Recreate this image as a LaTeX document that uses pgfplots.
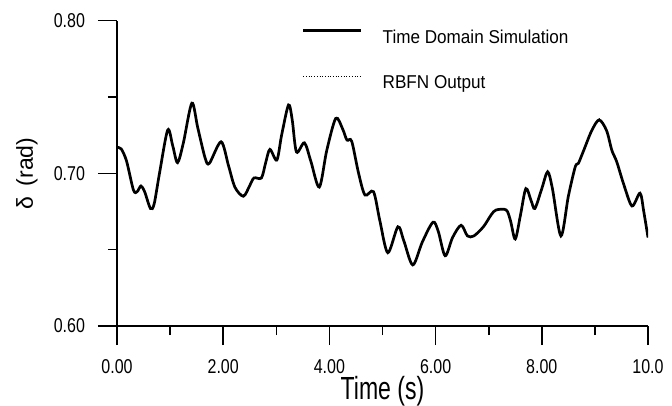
\documentclass[border=0pt]{standalone}
\usepackage{pgfplots}
\pgfplotsset{compat=1.18}
\usepackage{fontspec}
\setmainfont{Liberation Sans}
\newfontfamily\tickfont{Liberation Sans}[FakeStretch=0.8]
\newfontfamily\legfont{Liberation Sans}[FakeStretch=0.92]
\newfontfamily\xlabfont{Liberation Sans}[FakeStretch=0.72]
\begin{document}
\begin{tikzpicture}
\begin{axis}[
  scale only axis, width=531bp, height=305.3bp,
  xmin=0, xmax=10, ymin=0.6, ymax=0.8,
  axis x line*=bottom, axis y line*=left,
  axis line style={line width=1.8bp, -},
  xtick={0,2,4,6,8,10}, xticklabels={0.00,2.00,4.00,6.00,8.00,10.0},
  ytick={0.6,0.7,0.8}, yticklabels={0.60,0.70,0.80},
  minor x tick num=1, minor y tick num=1,
  tick align=outside,
  major tick length=19bp, minor tick length=9bp,
  xticklabel shift=11bp, yticklabel shift=9.5bp,
  tick style={black, line width=1.6bp},
  tick label style={font=\fontsize{20bp}{20bp}\tickfont},
  xlabel={\fontsize{32bp}{32bp}\xlabfont Time (s)},
  xlabel style={at={(axis description cs:0.5,-0.242)}, anchor=base},
  ylabel={\fontsize{23bp}{23bp}\selectfont δ\, (rad)},
  ylabel style={at={(axis description cs:-0.1695,0.5)}, anchor=center},
  legend style={draw=none, fill=none, at={(0.3484,0.9718)}, anchor=north west,
    inner sep=0pt, outer sep=0pt, row sep=30.7bp,
    font=\fontsize{18.6bp}{18.6bp}\legfont, nodes={inner sep=0pt}},
  legend cell align=left,
  legend image code/.code={\draw[#1] (0bp,6.5bp) -- (58bp,6.5bp); \path (78bp,6.5bp);},
]
\addplot[black, line width=2.7bp, smooth] coordinates {
(0.00,0.717) (0.08,0.716) (0.18,0.708) (0.31,0.689) (0.38,0.688) (0.45,0.6917)
(0.52,0.688) (0.63,0.677) (0.70,0.680) (0.80,0.700) (0.955,0.7284) (1.05,0.718)
(1.14,0.707) (1.25,0.720) (1.41,0.746) (1.52,0.730) (1.66,0.710) (1.74,0.7066)
(1.96,0.7207) (2.10,0.705) (2.22,0.691) (2.38,0.685) (2.50,0.692) (2.58,0.697)
(2.72,0.697) (2.80,0.707) (2.88,0.7157) (3.01,0.7087) (3.10,0.725) (3.23,0.7448)
(3.30,0.735) (3.38,0.714) (3.53,0.720) (3.65,0.708) (3.81,0.691) (3.95,0.715)
(4.12,0.736) (4.25,0.729) (4.33,0.7218) (4.42,0.721) (4.55,0.700) (4.67,0.6858)
(4.83,0.688) (4.95,0.669) (5.10,0.648) (5.29,0.665) (5.40,0.656) (5.57,0.640)
(5.75,0.655) (5.95,0.668) (6.05,0.662) (6.18,0.646) (6.32,0.658) (6.48,0.666)
(6.60,0.659) (6.72,0.659) (6.90,0.665) (7.05,0.673) (7.14,0.676) (7.33,0.676)
(7.41,0.669) (7.50,0.657) (7.60,0.673) (7.70,0.690) (7.80,0.682) (7.87,0.677)
(8.00,0.690) (8.11,0.701) (8.20,0.690) (8.36,0.659) (8.50,0.685) (8.63,0.7043)
(8.69,0.7066) (8.80,0.716) (8.94,0.728) (9.08,0.735) (9.22,0.728) (9.32,0.715)
(9.41,0.7077) (9.55,0.692) (9.70,0.6786) (9.85,0.687) (9.92,0.675) (10.0,0.658)
};
\addlegendentry{Time Domain Simulation}
\addplot[black, line width=0.7bp, dotted, smooth] coordinates {
(0.00,0.716) (0.08,0.716) (0.18,0.708) (0.31,0.690) (0.38,0.688) (0.45,0.691)
(0.52,0.688) (0.63,0.678) (0.70,0.680) (0.80,0.700) (0.955,0.728) (1.05,0.718)
(1.14,0.707) (1.25,0.720) (1.41,0.745) (1.52,0.730) (1.66,0.710) (1.74,0.707)
(1.96,0.720) (2.10,0.705) (2.22,0.691) (2.38,0.686) (2.50,0.692) (2.58,0.697)
(2.72,0.697) (2.80,0.707) (2.88,0.716) (3.01,0.709) (3.10,0.725) (3.23,0.744)
(3.30,0.735) (3.38,0.714) (3.53,0.720) (3.65,0.708) (3.81,0.691) (3.95,0.715)
(4.12,0.737) (4.25,0.729) (4.33,0.722) (4.42,0.721) (4.55,0.700) (4.67,0.686)
(4.83,0.688) (4.95,0.669) (5.10,0.648) (5.29,0.665) (5.40,0.656) (5.57,0.640)
(5.75,0.655) (5.95,0.668) (6.05,0.662) (6.18,0.646) (6.32,0.658) (6.48,0.666)
(6.60,0.659) (6.72,0.659) (6.90,0.665) (7.05,0.673) (7.14,0.676) (7.33,0.676)
(7.41,0.669) (7.50,0.657) (7.60,0.673) (7.70,0.690) (7.80,0.682) (7.87,0.677)
(8.00,0.690) (8.11,0.701) (8.20,0.690) (8.36,0.659) (8.50,0.685) (8.63,0.704)
(8.69,0.707) (8.80,0.716) (8.94,0.728) (9.08,0.736) (9.22,0.728) (9.32,0.715)
(9.41,0.708) (9.55,0.692) (9.70,0.679) (9.85,0.687) (9.92,0.675) (10.0,0.658)
};
\addlegendentry{RBFN Output}
\end{axis}
\pgfresetboundingbox
\path (-117bp,-80bp) rectangle (555bp,326bp);
\end{tikzpicture}
\end{document}
